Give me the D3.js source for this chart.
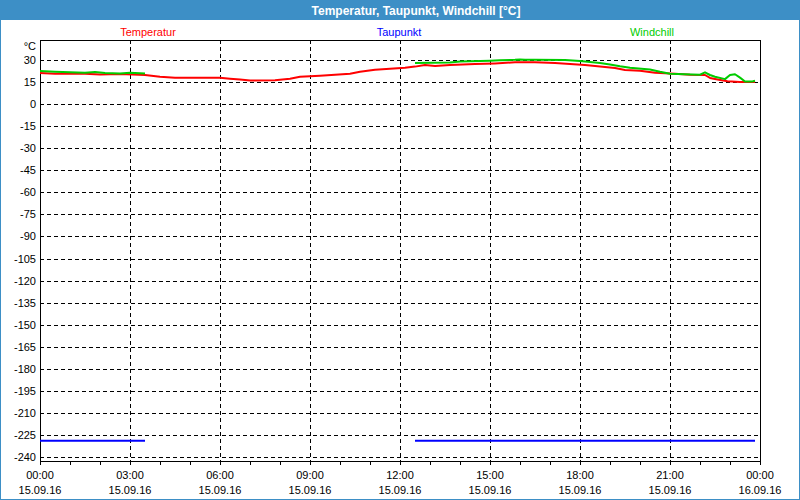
<!DOCTYPE html>
<html>
<head>
<meta charset="utf-8">
<script src="https://cdn.jsdelivr.net/npm/d3@7"></script>
<style>
html,body{margin:0;padding:0;background:#fff;}
svg{display:block;}
text{font-family:"Liberation Sans",Arial,sans-serif;font-size:11px;}
</style>
</head>
<body>
<svg id="chart" width="800" height="500"></svg>
<script>
const title = "Temperatur, Taupunkt, Windchill [°C]";
const seriesNames = ["Temperatur", "Taupunkt", "Windchill"];
const seriesColors = ["#ff0000", "#0000ff", "#00cc00"];
const unitLabel = "°C";

const yTicks = [30, 15, 0, -15, -30, -45, -60, -75, -90, -105, -120, -135, -150, -165, -180, -195, -210, -225, -240];
const xTickTimes = ["2016-09-15T00:00","2016-09-15T03:00","2016-09-15T06:00","2016-09-15T09:00","2016-09-15T12:00","2016-09-15T15:00","2016-09-15T18:00","2016-09-15T21:00","2016-09-16T00:00"];
const xTickTime = ["00:00","03:00","06:00","09:00","12:00","15:00","18:00","21:00","00:00"];
const xTickDate = ["15.09.16","15.09.16","15.09.16","15.09.16","15.09.16","15.09.16","15.09.16","15.09.16","16.09.16"];

// Temperatur
const tempTimes = ["00:00","00:30","01:30","02:00","02:40","03:30","04:00","04:30","06:00","06:20","06:40","07:00","07:50","08:20","08:40","09:20","09:50","10:20","10:40","11:10","11:40","12:10","12:30","12:50","13:10","13:40","14:30","15:10","15:50","16:30","17:10","17:40","18:10","18:30","18:50","19:10","19:30","20:00","20:30","21:10","21:40","22:10","22:20","22:35","22:55","23:20","23:50"];
const tempValues = [21.2,20.7,20.7,20.2,20.5,19.8,18.6,18.0,18.0,17.3,16.7,16.0,16.2,17.3,18.6,19.3,20.0,20.7,22.0,23.4,24.0,24.8,25.5,26.6,25.9,26.6,27.3,27.7,28.4,28.4,28.0,27.3,26.6,25.9,25.2,24.6,23.2,22.7,21.4,20.7,20.0,19.8,17.8,16.8,15.6,15.0,15.0];

// Taupunkt (two segments)
const dewTimes1 = ["00:00","03:30"];
const dewValues1 = [-229,-229];
const dewTimes2 = ["12:30","23:50"];
const dewValues2 = [-229,-229];

// Windchill (two segments)
const windTimes1 = ["00:00","00:30","01:30","01:50","02:10","02:40","03:00","03:30"];
const windValues1 = [22.5,22.0,21.3,21.9,21.2,20.8,21.3,20.9];
const windTimes2 = ["12:30","13:40","14:00","15:00","15:20","15:50","16:00","16:10","16:30","17:30","18:00","18:20","18:40","19:00","19:20","19:40","20:20","20:40","21:00","22:00","22:10","22:20","22:30","22:50","23:00","23:10","23:20","23:30","23:45","23:50"];
const windValues2 = [28.0,28.3,28.9,29.5,29.8,30.1,30.4,30.2,30.2,30.0,29.3,28.6,28.0,27.0,25.8,24.8,23.5,22.0,20.7,20.0,21.6,19.8,18.6,17.0,19.8,20.3,18.0,15.4,15.4,16.0];

const svg = d3.select("#chart");
const W = 800, H = 500;
const frame = {left: 40, top: 40, right: 760, bottom: 461};

const parseT = s => new Date("2016-09-15T" + s + ":00");
const x = d3.scaleTime()
  .domain([new Date("2016-09-15T00:00:00"), new Date("2016-09-16T00:00:00")])
  .range([frame.left, frame.right]);
const y = d3.scaleLinear().domain([30, -240]).range([60, 457]);

// background and border
svg.append("rect").attr("x",0).attr("y",0).attr("width",W).attr("height",H).attr("fill","#3d8fc6");
svg.append("rect").attr("x",1).attr("y",20).attr("width",W-2).attr("height",H-21).attr("fill","#ffffff");

// title
svg.append("text").attr("x", 416).attr("y", 15).attr("text-anchor","middle")
  .attr("fill","#fff").style("font-weight","bold").style("font-size","12px").text(title);

// legend labels
const legendX = [148, 399, 652];
seriesNames.forEach((n,i)=>{
  svg.append("text").attr("x", legendX[i]).attr("y", 36).attr("text-anchor","middle")
    .attr("fill", seriesColors[i]).text(n);
});

// grid
const g = svg.append("g");
g.selectAll("line.hg").data(yTicks).enter().append("line")
  .attr("x1", frame.left).attr("x2", frame.right)
  .attr("y1", d=>Math.round(y(d))+0.5).attr("y2", d=>Math.round(y(d))+0.5)
  .attr("stroke","#000").attr("stroke-dasharray","4,3").attr("shape-rendering","crispEdges");
const xTickDates = xTickTimes.map(s=>new Date(s+":00"));
g.selectAll("line.vg").data(xTickDates.slice(1,-1)).enter().append("line")
  .attr("x1", d=>Math.round(x(d))+0.5).attr("x2", d=>Math.round(x(d))+0.5)
  .attr("y1", frame.top).attr("y2", frame.bottom)
  .attr("stroke","#000").attr("stroke-dasharray","4,3").attr("shape-rendering","crispEdges");

// frame
svg.append("rect").attr("x", frame.left+0.5).attr("y", frame.top+0.5)
  .attr("width", frame.right-frame.left).attr("height", frame.bottom-frame.top)
  .attr("fill","none").attr("stroke","#000").attr("shape-rendering","crispEdges");

// x axis minor ticks (hourly)
const hourTicks = x.ticks(d3.timeHour.every(1));
svg.selectAll("line.xt").data(hourTicks).enter().append("line")
  .attr("x1", d=>Math.round(x(d))+0.5).attr("x2", d=>Math.round(x(d))+0.5)
  .attr("y1", frame.bottom).attr("y2", frame.bottom+4)
  .attr("stroke","#000").attr("shape-rendering","crispEdges");

// y labels
svg.selectAll("text.yl").data(yTicks).enter().append("text")
  .attr("x", 36).attr("y", d=>y(d)+4).attr("text-anchor","end").attr("fill","#000")
  .text(d=>d);
svg.append("text").attr("x", 36).attr("y", 50).attr("text-anchor","end").text(unitLabel);

// x labels
xTickDates.forEach((d,i)=>{
  svg.append("text").attr("x", x(d)).attr("y", 479).attr("text-anchor","middle").text(xTickTime[i]);
  svg.append("text").attr("x", x(d)).attr("y", 494).attr("text-anchor","middle").text(xTickDate[i]);
});

// lines
const line = d3.line().x(d=>x(d.t)).y(d=>y(d.v));
function mk(times, vals){ return times.map((t,i)=>({t: parseT(t), v: vals[i]})); }
function draw(data, color){
  svg.append("path").datum(data).attr("d", line).attr("fill","none")
    .attr("stroke", color).attr("stroke-width", 2).attr("stroke-linejoin","round");
}
draw(mk(tempTimes, tempValues), seriesColors[0]);
draw(mk(dewTimes1, dewValues1), seriesColors[1]);
draw(mk(dewTimes2, dewValues2), seriesColors[1]);
draw(mk(windTimes1, windValues1), seriesColors[2]);
draw(mk(windTimes2, windValues2), seriesColors[2]);
</script>
</body>
</html>
